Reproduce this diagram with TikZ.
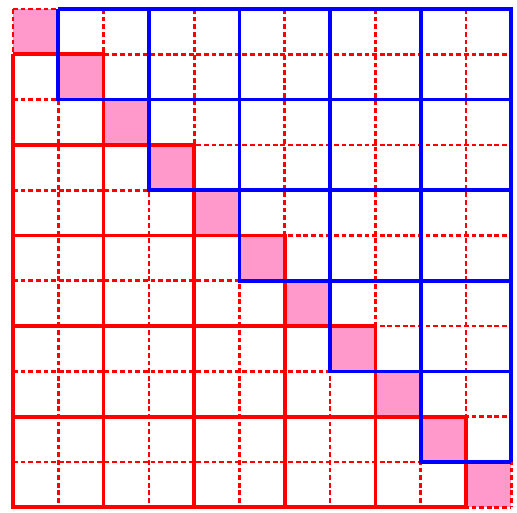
\documentclass[tikz,border=0pt]{standalone}
\usepackage{tikz}
\definecolor{clDiag}{HTML}{FF99CC}
\definecolor{clLower}{HTML}{FF0000}
\definecolor{clUpper}{HTML}{0000FF}
\tikzset{
  diagcell/.style={fill=clDiag, draw=none},
  gridline/.style={draw=clLower, line width=1.7pt, dash pattern=on 3pt off 1.8pt},
  lowerblock/.style={draw=clLower, line width=2.3pt},
  upperblock/.style={draw=clUpper, line width=2.3pt},
}
\begin{document}
\begin{tikzpicture}[y=-1cm]
  \useasboundingbox (-0.287,-0.199) rectangle (11.126,11.104);
  % diagonal cells
  \foreach \i in {0,...,10}
    \fill[diagcell] (\i,\i) rectangle ++(1,1);
  % dashed grid
  \foreach \k in {0,...,11} {
    \draw[gridline] (\k,0) -- (\k,11);
    \draw[gridline] (0,\k) -- (11,\k);
  }
  % lower staircase
  \draw[lowerblock] (0,1) -- (0,11) -- (10,11);
  \foreach \k in {1,3,5,7,9}
    \draw[lowerblock] (0,\k) -| (\k+1,11);
  % upper staircase
  \draw[upperblock] (1,0) -- (11,0) -- (11,10);
  \foreach \k in {1,3,5,7,9}
    \draw[upperblock] (\k,0) |- (11,\k+1);
\end{tikzpicture}
\end{document}
